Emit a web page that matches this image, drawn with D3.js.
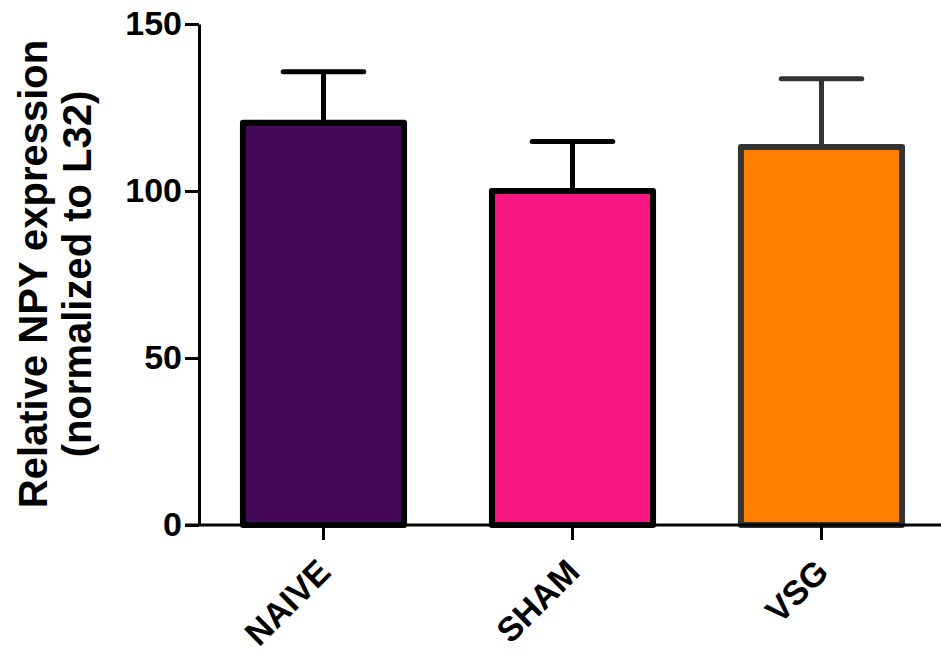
<!DOCTYPE html>
<html><head><meta charset="utf-8">
<script src="https://cdn.jsdelivr.net/npm/d3@7"></script>
<style>body{margin:0;background:#fff}svg{display:block}</style>
</head><body>
<svg id="chart" width="941" height="662"></svg>
<script>
const categories = ["NAIVE", "SHAM", "VSG"];
const means = [120.4, 100.0, 113.2];
const errors = [15.3, 14.8, 20.4];
const fills = ["#450a57", "#f5167f", "#ff8000"];
const strokes = ["#000000", "#000000", "#333333"];
const yTicks = [0, 50, 100, 150];
const yLabelLines = ["Relative NPY expression", "(normalized to L32)"];

const svg = d3.select("#chart");
const font = "'Liberation Sans', Arial, sans-serif";
const y = d3.scaleLinear().domain([0, 150]).range([525, 24]);
const x = d3.scaleBand().domain(categories).range([199, 946]).paddingInner(0.353).paddingOuter(0.1765);

// bars
svg.selectAll("rect.bar").data(categories).join("rect")
  .attr("x", d => x(d)).attr("width", x.bandwidth())
  .attr("y", (d, i) => y(means[i])).attr("height", (d, i) => y(0) - y(means[i]))
  .attr("fill", (d, i) => fills[i]).attr("stroke", (d, i) => strokes[i])
  .attr("stroke-width", 6).attr("stroke-linejoin", "round");

// error bars
const eb = svg.selectAll("g.err").data(categories).join("g");
eb.append("line")
  .attr("x1", d => x(d) + x.bandwidth() / 2).attr("x2", d => x(d) + x.bandwidth() / 2)
  .attr("y1", (d, i) => y(means[i])).attr("y2", (d, i) => y(means[i] + errors[i]))
  .attr("stroke", (d, i) => strokes[i]).attr("stroke-width", 5);
eb.append("line")
  .attr("x1", d => x(d) + x.bandwidth() / 4).attr("x2", d => x(d) + x.bandwidth() * 3 / 4)
  .attr("y1", (d, i) => y(means[i] + errors[i])).attr("y2", (d, i) => y(means[i] + errors[i]))
  .attr("stroke", (d, i) => strokes[i]).attr("stroke-width", 5).attr("stroke-linecap", "round");

// y axis
const yAxis = svg.append("g").attr("transform", "translate(199,0)")
  .call(d3.axisLeft(y).tickValues(yTicks).tickSize(14).tickPadding(3).tickSizeOuter(0));
yAxis.select(".domain").attr("stroke", "#000").attr("stroke-width", 3);
yAxis.selectAll(".tick line").attr("stroke", "#000").attr("stroke-width", 3);
yAxis.selectAll(".tick text").attr("font-family", font).attr("font-weight", "bold")
  .attr("font-size", 34).attr("fill", "#000");

// x axis
const xAxis = svg.append("g").attr("transform", "translate(0,525)")
  .call(d3.axisBottom(x).tickSize(15).tickSizeOuter(0));
xAxis.select(".domain").attr("d", "M185,0H941").attr("stroke", "#000").attr("stroke-width", 3);
xAxis.selectAll(".tick line").attr("stroke", "#000").attr("stroke-width", 3);
xAxis.selectAll(".tick text").attr("font-family", font).attr("font-weight", "bold")
  .attr("font-size", 34).attr("fill", "#000")
  .attr("text-anchor", "end").attr("dy", null)
  .attr("transform", "translate(9,49) rotate(-45)").attr("y", 0).attr("x", 0);

// y label
const yl = svg.append("text").attr("transform", "translate(0,274) rotate(-90)")
  .attr("font-family", font).attr("font-weight", "bold").attr("font-size", 40)
  .attr("text-anchor", "middle").attr("fill", "#000");
yl.selectAll("tspan").data(yLabelLines).join("tspan")
  .attr("x", 0).attr("y", (d, i) => 47 + i * 44).text(d => d);
</script>
</body></html>
